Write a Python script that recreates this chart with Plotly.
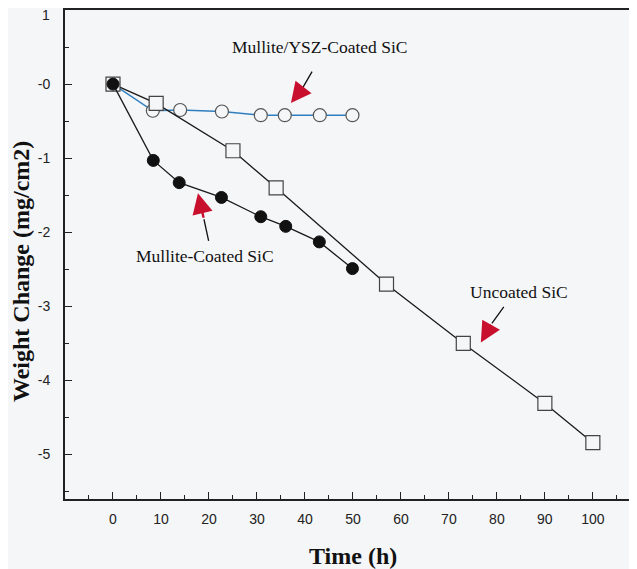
import plotly.graph_objects as go

# Data
uncoated_t = [0, 9, 25, 34, 57, 73, 90, 100]
uncoated_w = [0, -0.26, -0.90, -1.40, -2.70, -3.50, -4.31, -4.84]

mullite_t = [0, 8.4, 13.8, 22.6, 30.8, 36, 43, 49.9]
mullite_w = [0, -1.03, -1.33, -1.53, -1.79, -1.92, -2.13, -2.49]

ysz_t = [0, 8.3, 14, 22.7, 30.8, 35.8, 43.1, 49.9]
ysz_w = [0, -0.36, -0.35, -0.37, -0.42, -0.42, -0.42, -0.42]

x_ticks = [0, 10, 20, 30, 40, 50, 60, 70, 80, 90, 100]
y_ticks = [1, 0, -1, -2, -3, -4, -5]
y_ticktext = ["", "-0", "-1", "-2", "-3", "-4", "-5"]
y_top_label = "1"

BG = "#f5f6f8"
SERIF = "Liberation Serif, Times New Roman, serif"
SANS = "Liberation Sans, Arial, sans-serif"
RED = "#c8102e"

# page offset of the figure (body margin) and layout in screen pixels
OFF = 8
W, H = 637, 569
L, T = 65 - OFF, 10 - OFF
R = (W + OFF) - 637
B = (H + OFF) - 499
pw, ph = W - L - R, H - T - B

fig = go.Figure()

fig.add_trace(go.Scatter(
    x=ysz_t, y=ysz_w, mode="lines+markers",
    line=dict(color="#2f7fc0", width=1.5),
    marker=dict(symbol="circle", size=13, color=BG,
                line=dict(color="#555555", width=1.2)),
    showlegend=False))

fig.add_trace(go.Scatter(
    x=uncoated_t, y=uncoated_w, mode="lines+markers",
    line=dict(color="#1a1a1a", width=1.3),
    marker=dict(symbol="square", size=14, color=BG,
                line=dict(color="#444444", width=1.2)),
    showlegend=False))

fig.add_trace(go.Scatter(
    x=mullite_t, y=mullite_w, mode="lines+markers",
    line=dict(color="#1a1a1a", width=1.3),
    marker=dict(symbol="circle", size=12, color="#111111",
                line=dict(color="#111111", width=1)),
    showlegend=False))


def px2x(px):
    return (px - 113) / 4.8


def py2y(py):
    return -(py - 84) / 74.0


def label(text, tx, ty, lx0, ly0, lx1, ly1, hx, hy):
    fig.add_annotation(x=px2x(tx), y=py2y(ty), xref="x", yref="y", text=text,
                       showarrow=False,
                       font=dict(family=SERIF, size=17.5, color="#111111"))
    fig.add_annotation(x=px2x(lx1), y=py2y(ly1), ax=px2x(lx0), ay=py2y(ly0),
                       xref="x", yref="y", axref="x", ayref="y", text="",
                       showarrow=True, arrowhead=0, arrowwidth=1.3,
                       arrowcolor="#111111")
    fig.add_annotation(x=px2x(hx), y=py2y(hy), ax=px2x(lx1), ay=py2y(ly1),
                       xref="x", yref="y", axref="x", ayref="y", text="",
                       showarrow=True, arrowhead=2, arrowsize=1.7,
                       arrowwidth=2.4, arrowcolor=RED)


label("Mullite/YSZ-Coated SiC", 320, 47, 313, 70, 302, 89, 291, 103)
label("Mullite-Coated SiC", 205, 256, 209, 242, 204, 219, 198, 193)
label("Uncoated SiC", 519, 292, 505, 305, 492, 323, 481, 342)


def sx(px):
    return (px - OFF - L) / pw


def sy(py):
    return 1 - (py - OFF - T) / ph


# top tick label, nudged down so it stays inside the page
fig.add_annotation(x=sx(52), y=y_ticks[0], xref="paper", yref="y",
                   xanchor="right", yanchor="middle", yshift=-5,
                   text=y_top_label, showarrow=False,
                   font=dict(family=SANS, size=14, color="#222222"))

# Axis titles
fig.add_annotation(x=sx(21), y=sy(272), xref="paper", yref="paper",
                   xanchor="center", yanchor="middle",
                   text="<b>Weight Change (mg/cm2)</b>",
                   showarrow=False, textangle=-90,
                   font=dict(family=SERIF, size=24, color="#111111"))
fig.add_annotation(x=sx(353), y=sy(556), xref="paper", yref="paper",
                   xanchor="center", yanchor="middle",
                   text="<b>Time (h)</b>", showarrow=False,
                   font=dict(family=SERIF, size=24, color="#111111"))

fig.update_xaxes(
    range=[-10, 109.2], tickvals=x_ticks, ticks="inside", ticklen=7,
    tickcolor="#222222", tickwidth=1.3, automargin=False,
    minor=dict(dtick=5, tick0=0, ticks="inside", ticklen=4,
               tickcolor="#222222", tickwidth=1),
    showgrid=False, zeroline=False, showline=True, linecolor="#222222",
    linewidth=2, mirror=True, ticklabelstandoff=6,
    tickfont=dict(family=SANS, size=14, color="#222222"))

fig.update_yaxes(
    range=[-5.6, 1.0], tickvals=y_ticks, ticktext=y_ticktext,
    ticks="inside", ticklen=7, tickcolor="#222222", tickwidth=1.3,
    automargin=False,
    minor=dict(dtick=0.5, tick0=0, ticks="inside", ticklen=4,
               tickcolor="#222222", tickwidth=1),
    showgrid=False, zeroline=False, showline=True, linecolor="#222222",
    linewidth=2, ticklabelstandoff=10,
    tickfont=dict(family=SANS, size=14, color="#222222"))

fig.update_layout(
    width=W, height=H,
    margin=dict(l=L, r=R, t=T, b=B, pad=0),
    paper_bgcolor=BG, plot_bgcolor=BG,
)

fig.write_html("out.html")
